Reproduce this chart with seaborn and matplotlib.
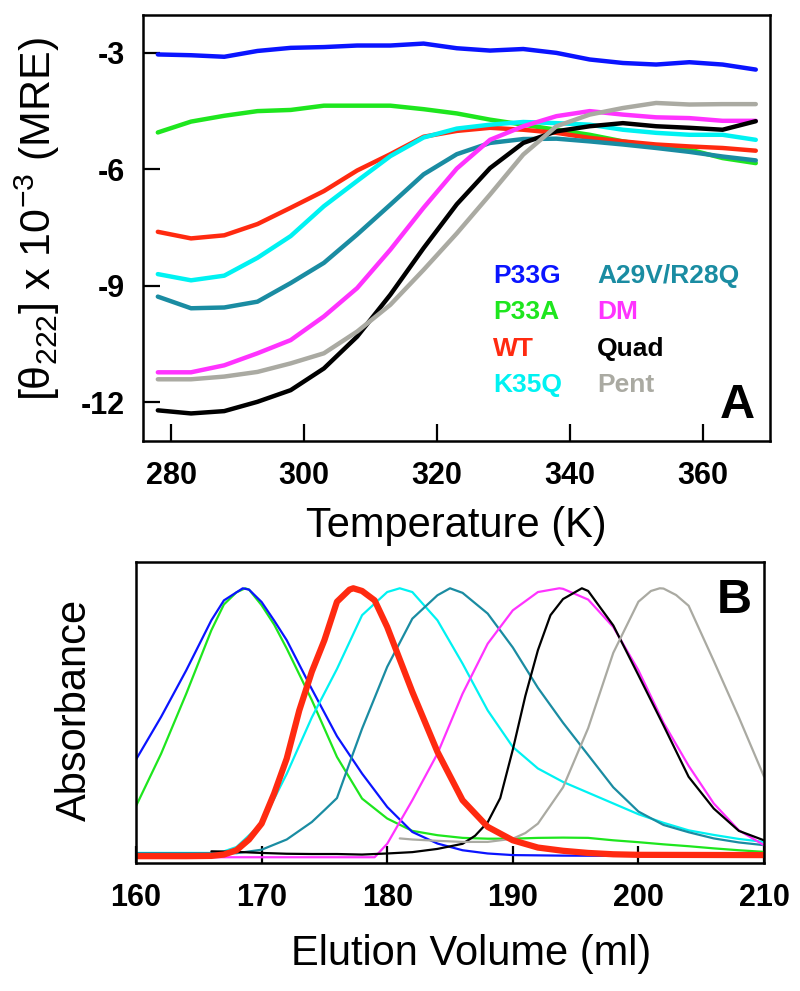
import pandas as pd
import matplotlib
matplotlib.use('Agg')
import matplotlib.pyplot as plt
import seaborn as sns

sns.set_style('ticks')
plt.rcParams['font.family'] = ['Liberation Sans', 'DejaVu Sans']
plt.rcParams['mathtext.fontset'] = 'custom'
plt.rcParams['mathtext.rm'] = 'Liberation Sans'
plt.rcParams['mathtext.it'] = 'Liberation Sans'
plt.rcParams['mathtext.bf'] = 'Liberation Sans:bold'
plt.rcParams['axes.unicode_minus'] = False
plt.rcParams['text.color'] = 'black'
plt.rcParams['axes.labelcolor'] = 'black'
plt.rcParams['xtick.color'] = 'black'
plt.rcParams['ytick.color'] = 'black'

# ---- panel A: thermal melts, [theta]222 x 10^-3 vs temperature (K)
temp = [278, 283, 288, 293, 298, 303, 308, 313, 318, 323,
        328, 333, 338, 343, 348, 353, 358, 363, 368]
p33g = [-3.04, -3.06, -3.10, -2.95, -2.87, -2.85, -2.81, -2.81, -2.76, -2.88,
        -2.94, -2.90, -3.00, -3.17, -3.26, -3.30, -3.24, -3.30, -3.43]
p33a = [-5.05, -4.77, -4.62, -4.50, -4.47, -4.36, -4.36, -4.36, -4.45, -4.56,
        -4.72, -4.85, -4.98, -5.11, -5.28, -5.41, -5.49, -5.71, -5.84]
wt = [-7.61, -7.78, -7.70, -7.41, -6.99, -6.56, -6.03, -5.61, -5.16, -5.01,
      -4.93, -4.98, -5.06, -5.19, -5.28, -5.36, -5.41, -5.45, -5.52]
k35q = [-8.70, -8.86, -8.74, -8.28, -7.72, -6.95, -6.30, -5.66, -5.18, -4.95,
        -4.85, -4.78, -4.81, -4.85, -4.98, -5.06, -5.11, -5.11, -5.24]
a29v = [-9.28, -9.58, -9.56, -9.41, -8.93, -8.41, -7.68, -6.91, -6.13, -5.61,
        -5.32, -5.22, -5.21, -5.28, -5.36, -5.45, -5.55, -5.67, -5.77]
dm = [-11.23, -11.23, -11.05, -10.74, -10.40, -9.79, -9.06, -8.07, -6.99, -5.98,
      -5.24, -4.89, -4.63, -4.50, -4.59, -4.66, -4.68, -4.75, -4.75]
quad = [-12.21, -12.29, -12.23, -11.99, -11.69, -11.13, -10.31, -9.23, -8.03, -6.90,
        -5.97, -5.32, -5.02, -4.89, -4.81, -4.89, -4.93, -4.98, -4.76]
pent = [-11.41, -11.41, -11.34, -11.22, -11.00, -10.74, -10.18, -9.49, -8.59, -7.65,
        -6.65, -5.62, -4.89, -4.59, -4.42, -4.29, -4.33, -4.32, -4.32]

names = ['P33G', 'P33A', 'WT', 'K35Q', 'A29V/R28Q', 'DM', 'Quad', 'Pent']
colors = ['#0a14ff', '#1ee61e', '#ff2a10', '#00f2f2', '#1a8ca2', '#ff33ff', '#000000', '#aaaaa2']

# ---- panel B: gel filtration, absorbance (normalised) vs elution volume (ml)
b_p33g_x = [160, 162, 164, 166, 167, 168, 168.5, 169, 170, 171, 172, 174, 176, 178, 180,
            182, 184, 186, 188, 190, 194, 200, 210]
b_p33g_y = [0.363, 0.522, 0.695, 0.881, 0.955, 0.985, 1.0, 0.995, 0.949, 0.880, 0.807,
            0.625, 0.450, 0.311, 0.187, 0.094, 0.051, 0.026, 0.014, 0.008, 0.006, 0.005, 0.005]
b_p33a_x = [160, 162, 164, 166, 167, 168, 168.7, 169, 170, 171, 172, 174, 176, 178, 180,
            182, 184, 186, 188, 190, 192, 194, 196, 198, 200, 202, 204, 206, 208, 210]
b_p33a_y = [0.19, 0.385, 0.608, 0.844, 0.94, 0.985, 1.0, 0.995, 0.937, 0.865, 0.776,
            0.584, 0.373, 0.218, 0.144, 0.098, 0.082, 0.072, 0.069, 0.069, 0.072, 0.073,
            0.072, 0.063, 0.056, 0.048, 0.041, 0.033, 0.026, 0.020]
b_wt_x = [160, 164, 166, 167, 168, 169, 170, 171, 172, 173, 174, 175, 176, 177, 177.3,
          178, 179, 180, 182, 184, 186, 188, 190, 192, 194, 196, 198, 200, 210]
b_wt_y = [0.004, 0.004, 0.005, 0.010, 0.026, 0.066, 0.125, 0.237, 0.367, 0.546, 0.690,
          0.807, 0.950, 0.995, 1.0, 0.990, 0.955, 0.856, 0.615, 0.392, 0.212, 0.113,
          0.063, 0.036, 0.024, 0.016, 0.011, 0.009, 0.008]
b_k35q_x = [160, 166, 167, 168, 170, 172, 174, 176, 178, 180, 181, 182, 184, 186, 188,
            190, 192, 194, 196, 198, 200, 202, 204, 206, 208, 210]
b_k35q_y = [0.016, 0.016, 0.022, 0.038, 0.125, 0.31, 0.52, 0.70, 0.90, 0.986, 1.0, 0.986,
            0.881, 0.72, 0.546, 0.41, 0.33, 0.28, 0.24, 0.20, 0.16, 0.128, 0.10, 0.083,
            0.068, 0.057]
b_a29v_x = [160, 168, 170, 172, 174, 175, 176, 177, 178, 180, 182, 184, 185, 186, 188,
            190, 192, 194, 196, 198, 200, 202, 204, 206, 208, 210]
b_a29v_y = [0.015, 0.015, 0.028, 0.066, 0.131, 0.175, 0.22, 0.35, 0.478, 0.708, 0.887,
            0.974, 1.0, 0.983, 0.906, 0.78, 0.63, 0.50, 0.38, 0.26, 0.17, 0.12, 0.093,
            0.07, 0.055, 0.045]
b_dm_x = [160, 179, 180, 182, 184, 186, 188, 190, 192, 193.7, 194, 196, 198, 200, 202,
          204, 206, 208, 210]
b_dm_y = [0.0, 0.0, 0.05, 0.212, 0.385, 0.608, 0.794, 0.918, 0.986, 1.0, 0.998, 0.958,
          0.856, 0.695, 0.50, 0.34, 0.20, 0.10, 0.045]
b_quad_x = [166, 168, 170, 172, 174, 176, 178, 180, 182, 184, 186, 187, 188, 189, 190,
            191, 192, 193, 194, 195.5, 196, 198, 200, 202, 204, 206, 208, 210]
b_quad_y = [0.022, 0.020, 0.016, 0.013, 0.012, 0.012, 0.010, 0.014, 0.019, 0.031, 0.05,
            0.08, 0.13, 0.22, 0.40, 0.60, 0.77, 0.90, 0.96, 1.0, 0.99, 0.862, 0.677,
            0.49, 0.299, 0.181, 0.098, 0.063]
b_pent_x = [181, 182, 184, 186, 188, 190, 191, 192, 194, 196, 198, 200, 201, 201.7, 202,
            203, 204, 206, 208, 210]
b_pent_y = [0.07, 0.066, 0.061, 0.057, 0.057, 0.069, 0.09, 0.125, 0.26, 0.48, 0.76,
            0.95, 0.99, 1.0, 0.999, 0.975, 0.935, 0.73, 0.52, 0.30]

fig = plt.figure(figsize=(8, 9.91), dpi=100)

# ---------- panel A
axA = fig.add_axes([0.179, 0.555, 0.784, 0.430])
melt = pd.DataFrame({'T': temp, 'P33G': p33g, 'P33A': p33a, 'WT': wt, 'K35Q': k35q,
                     'A29V/R28Q': a29v, 'DM': dm, 'Quad': quad, 'Pent': pent})
melt = melt.melt(id_vars='T', var_name='variant', value_name='mre')
sns.lineplot(data=melt, x='T', y='mre', hue='variant', hue_order=names,
             palette=dict(zip(names, colors)), linewidth=3.2, legend=False, ax=axA)
axA.set_xlim(275.8, 370.2)
axA.set_ylim(-13.0, -2.02)
axA.set_xticks([280, 300, 320, 340, 360])
axA.set_yticks([-3, -6, -9, -12])
axA.set_xlabel('Temperature (K)', fontsize=30)
axA.set_ylabel(r'[$\mathregular{\theta_{222}}$] x 10$^{\mathregular{-3}}$ (MRE)', fontsize=31)
axA.xaxis.set_label_coords(0.5, -0.153)
axA.yaxis.set_label_coords(-0.129, 0.52)

# coloured text legend
lx = [0.558, 0.558, 0.558, 0.558, 0.724, 0.724, 0.724, 0.724]
ly = [0.371, 0.286, 0.200, 0.115, 0.371, 0.286, 0.200, 0.115]
for n, c, x, y in zip(names, colors, lx, ly):
    axA.text(x, y, n, color=c, fontsize=19, fontweight='bold',
             transform=axA.transAxes, ha='left', va='baseline')
axA.text(0.976, 0.054, 'A', fontsize=35, fontweight='bold',
         transform=axA.transAxes, ha='right', va='baseline')

# ---------- panel B
axB = fig.add_axes([0.170, 0.129, 0.785, 0.3037])
series_b = [(b_p33a_x, b_p33a_y, colors[1], 1.6), (b_p33g_x, b_p33g_y, colors[0], 1.6),
            (b_k35q_x, b_k35q_y, colors[3], 1.6), (b_a29v_x, b_a29v_y, colors[4], 1.6),
            (b_dm_x, b_dm_y, colors[5], 1.6), (b_quad_x, b_quad_y, colors[6], 1.6),
            (b_pent_x, b_pent_y, colors[7], 1.6), (b_wt_x, b_wt_y, colors[2], 4.5)]
for xs, ys, c, lw in series_b:
    sns.lineplot(x=xs, y=ys, color=c, linewidth=lw, ax=axB)
axB.set_xlim(160, 210)
axB.set_ylim(-0.022, 1.097)
axB.set_xticks([160, 170, 180, 190, 200, 210])
axB.set_yticks([])
axB.set_xlabel('Elution Volume (ml)', fontsize=30)
axB.set_ylabel('Absorbance', fontsize=30)
axB.xaxis.set_label_coords(0.533, -0.236)
axB.yaxis.set_label_coords(-0.065, 0.508)
axB.text(0.981, 0.831, 'B', fontsize=35, fontweight='bold',
         transform=axB.transAxes, ha='right', va='baseline')

for ax in (axA, axB):
    for s in ax.spines.values():
        s.set_linewidth(1.8)
        s.set_color('black')
    ax.tick_params(direction='in', length=12, width=1.6, color='black',
                   labelcolor='black', labelsize=22, pad=14.5)
    for lab in ax.get_xticklabels() + ax.get_yticklabels():
        lab.set_fontweight('bold')
axA.tick_params(axis='y', pad=13)

fig.savefig('out.png', dpi=100)
